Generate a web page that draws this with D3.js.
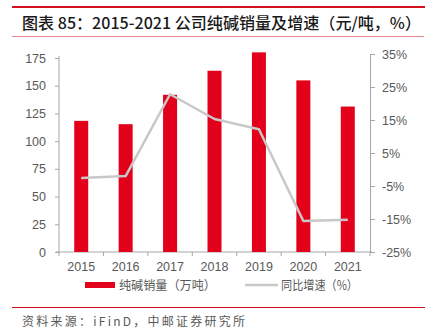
<!DOCTYPE html>
<html><head><meta charset="utf-8">
<script src="https://cdn.jsdelivr.net/npm/d3@7/dist/d3.min.js"></script>
<style>
body{margin:0;background:#fff;}
svg{display:block;}
</style></head>
<body>
<script>
const years = ["2015","2016","2017","2018","2019","2020","2021"];
const sales = [118.3, 115.3, 141.8, 163.5, 180.1, 154.8, 131.2];
const growth = [-2.6, -2.0, 22.8, 15.3, 12.2, -15.6, -15.2];
const leftTicks = [0,25,50,75,100,125,150,175];
const rightTicks = [-25,-15,-5,5,15,25,35];
const titleText = "图表 85：2015-2021 公司纯碱销量及增速（元/吨，%）";
const legendLabels = ["纯碱销量（万吨）","同比增速（%）"];
const sourceText = "资料来源：iFinD，中邮证券研究所";

const W=425,H=333;
const svg=d3.select("body").append("svg").attr("width",W).attr("height",H);
const red="#e2001a", grey="#c8c8c8", txt="#595959", axisC="#a6a6a6";
const cjk="'Noto Sans CJK SC','Noto Sans',sans-serif";
const lat="'Liberation Sans',Arial,sans-serif";

// header lines
svg.append("line").attr("x1",12).attr("x2",425).attr("y1",7).attr("y2",7).attr("stroke","#d0101e").attr("stroke-width",2);
svg.append("line").attr("x1",12).attr("x2",424).attr("y1",36.5).attr("y2",36.5).attr("stroke","#e8868e").attr("stroke-width",1);
svg.append("text").attr("x",22).attr("y",29).text(titleText)
  .attr("font-family",cjk).attr("font-size",16).attr("font-weight",500).attr("fill","#1a1a1a")
  .attr("textLength",399).attr("lengthAdjust","spacingAndGlyphs");

const x=d3.scaleBand().domain(years).range([59,370]).paddingInner(0).paddingOuter(0);
const yL=d3.scaleLinear().domain([0,175]).range([252,58]);
const yR=d3.scaleLinear().domain([-25,35]).range([252,54]);

// left axis
const gL=svg.append("g").attr("transform","translate(59,0)")
  .call(d3.axisLeft(yL).tickValues(leftTicks).tickSize(4).tickSizeOuter(0).tickPadding(9));
gL.select(".domain").attr("d","M0,56V252");
// right axis
const gR=svg.append("g").attr("transform","translate(370,0)")
  .call(d3.axisRight(yR).tickValues(rightTicks).tickFormat(d=>d+"%").tickSize(5).tickSizeOuter(0).tickPadding(7));
// bottom axis
const gB=svg.append("g").attr("transform","translate(0,252)")
  .call(d3.axisBottom(x).tickSize(0).tickPadding(10));
[gL,gR,gB].forEach(g=>{
  g.selectAll("path,line").attr("stroke",axisC);
  g.selectAll("text").attr("fill",txt).attr("font-family",lat).attr("font-size",12.5);
});
gB.select(".domain").attr("d","M56,0H372");
// between-category ticks
const bounds=years.map(y=>x(y)).concat([x(years[years.length-1])+x.bandwidth()]);
gB.selectAll(".btick").data(bounds).enter().append("line").attr("class","btick")
  .attr("x1",d=>d).attr("x2",d=>d).attr("y1",0).attr("y2",4).attr("stroke",axisC);

// bars
const bw=14;
svg.append("g").selectAll("rect").data(sales).enter().append("rect")
  .attr("x",(d,i)=>x(years[i])+x.bandwidth()/2-bw/2)
  .attr("y",d=>yL(d)).attr("width",bw).attr("height",d=>yL(0)-yL(d))
  .attr("fill",red);

// line
const line=d3.line().x((d,i)=>x(years[i])+x.bandwidth()/2).y(d=>yR(d));
svg.append("path").datum(growth).attr("d",line).attr("fill","none")
  .attr("stroke",grey).attr("stroke-width",2.5).attr("stroke-linejoin","round");

// legend
svg.append("rect").attr("x",85).attr("y",282).attr("width",30).attr("height",6).attr("fill",red);
svg.append("text").attr("x",119).attr("y",290).text(legendLabels[0])
  .attr("font-family",cjk).attr("font-size",12.5).attr("fill",txt)
  .attr("textLength",97).attr("lengthAdjust","spacingAndGlyphs");
svg.append("line").attr("x1",245).attr("x2",278).attr("y1",285).attr("y2",285).attr("stroke",grey).attr("stroke-width",2.5);
svg.append("text").attr("x",281).attr("y",290).text(legendLabels[1])
  .attr("font-family",cjk).attr("font-size",12.5).attr("fill",txt)
  .attr("textLength",77).attr("lengthAdjust","spacingAndGlyphs");

// footer
svg.append("line").attr("x1",12).attr("x2",425).attr("y1",307.5).attr("y2",307.5).attr("stroke","#d0101e").attr("stroke-width",1);
svg.append("text").attr("x",22).attr("y",326).text(sourceText)
  .attr("font-family",cjk).attr("font-size",12).attr("fill",txt)
  .attr("textLength",223).attr("lengthAdjust","spacing");
</script>
</body></html>
